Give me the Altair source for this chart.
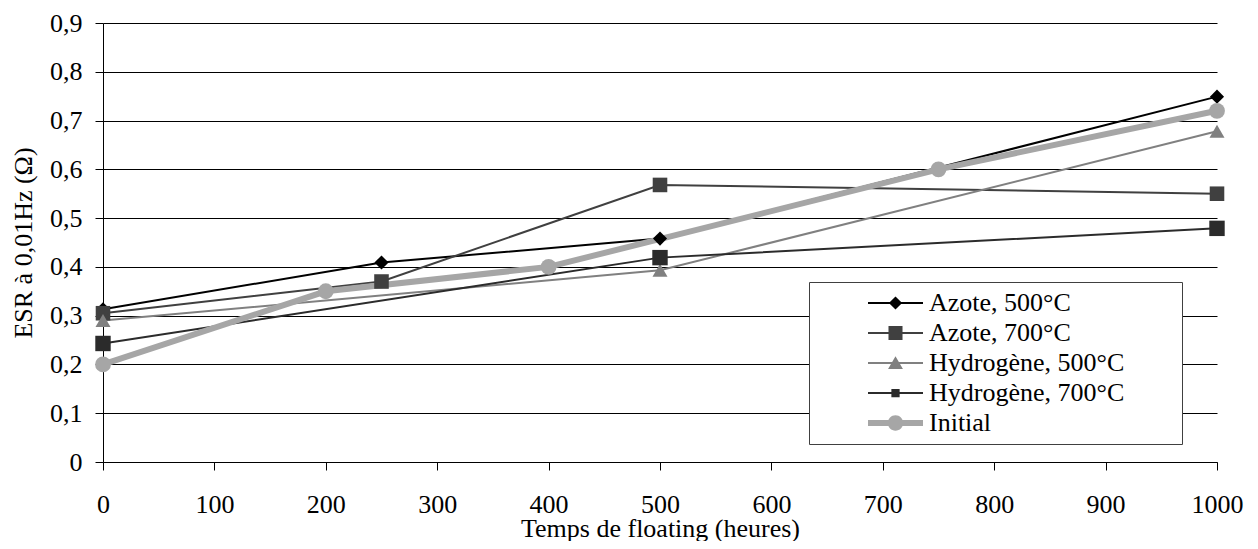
import altair as alt
import pandas as pd

series_names = ["Azote, 500°C", "Azote, 700°C", "Hydrogène, 500°C", "Hydrogène, 700°C", "Initial"]
series_colors = ["#000000", "#404040", "#808080", "#2b2b2b", "#a6a6a6"]

azote500_x = [0, 250, 500, 1000]
azote500_y = [0.313, 0.409, 0.458, 0.749]
azote700_x = [0, 250, 500, 1000]
azote700_y = [0.305, 0.370, 0.568, 0.550]
hydro500_x = [0, 500, 1000]
hydro500_y = [0.290, 0.393, 0.678]
hydro700_x = [0, 500, 1000]
hydro700_y = [0.243, 0.419, 0.479]
initial_x = [0, 200, 400, 750, 1000]
initial_y = [0.200, 0.350, 0.400, 0.600, 0.720]

y_ticks = [0, 0.1, 0.2, 0.3, 0.4, 0.5, 0.6, 0.7, 0.8, 0.9]
x_ticks = [0, 100, 200, 300, 400, 500, 600, 700, 800, 900, 1000]

FONT = "Liberation Serif"

rows = []
for name, xs, ys in [
    (series_names[0], azote500_x, azote500_y),
    (series_names[1], azote700_x, azote700_y),
    (series_names[2], hydro500_x, hydro500_y),
    (series_names[3], hydro700_x, hydro700_y),
    (series_names[4], initial_x, initial_y),
]:
    for x, y in zip(xs, ys):
        rows.append({"series": name, "t": x, "esr": y})
df = pd.DataFrame(rows)

point_shapes = ["diamond", "square", "triangle-up", "square", "circle"]
point_sizes = [200, 250, 240, 80, 290]

# legend symbols: line segment + marker, drawn as filled paths (unit = half of symbol box)
def seg(h):
    return f"M-1,-{h}L1,-{h}L1,{h}L-1,{h}Z"

legend_paths = [
    seg(0.036) + "M0,-0.24L0.24,0L0,0.24L-0.24,0Z",
    seg(0.036) + "M-0.255,-0.255L0.255,-0.255L0.255,0.255L-0.255,0.255Z",
    seg(0.036) + "M0,-0.25L0.27,0.22L-0.27,0.22Z",
    seg(0.036) + "M-0.15,-0.15L0.15,-0.15L0.15,0.15L-0.15,0.15Z",
    seg(0.109) + "M0.28,0A0.28,0.28 0 1,1 -0.28,0A0.28,0.28 0 1,1 0.28,0Z",
]

x_enc = alt.X("t:Q", scale=alt.Scale(domain=[0, 1000], nice=False),
              axis=alt.Axis(values=x_ticks, format="d", title="Temps de floating (heures)", grid=False,
                            labelFlush=False, tickSize=8, labelPadding=21,
                            titleY=74, titleBaseline="alphabetic"))
y_enc = alt.Y("esr:Q", scale=alt.Scale(domain=[0, 0.9], nice=False),
              axis=alt.Axis(values=y_ticks, title="ESR à 0,01Hz (Ω)", grid=True,
                            labelExpr="datum.value == 0 ? '0' : replace(format(datum.value, '.1f'), '.', ',')",
                            tickSize=8, labelPadding=13, titleX=-80, titleBaseline="middle"))

color_scale = alt.Scale(domain=series_names, range=series_colors)

lines_main = alt.Chart(df).transform_filter(alt.datum.series != "Initial").mark_line(strokeWidth=2).encode(
    x=x_enc, y=y_enc,
    color=alt.Color("series:N", scale=color_scale, legend=None),
    order=alt.Order("t:Q"),
)

line_init = alt.Chart(df).transform_filter(alt.datum.series == "Initial").mark_line(strokeWidth=6).encode(
    x="t:Q", y="esr:Q",
    color=alt.Color("series:N", scale=color_scale, legend=None),
    order=alt.Order("t:Q"),
)

points = alt.Chart(df).mark_point(filled=True, opacity=1).encode(
    x="t:Q", y="esr:Q",
    color=alt.Color("series:N", scale=color_scale, legend=None),
    shape=alt.Shape("series:N", scale=alt.Scale(domain=series_names, range=point_shapes), legend=None),
    size=alt.Size("series:N", scale=alt.Scale(domain=series_names, range=point_sizes), legend=None),
)

# trailing blank space so the legend frame extends to the right as in the reference
blank = "\u2800\u00a0\u00a0\u2800"
leg = alt.Legend(
    title=None, orient="none", legendX=706, legendY=259,
    labelFont=FONT, labelFontSize=26, labelColor="#000000",
    labelExpr=f"datum.label + '{blank}'",
    symbolSize=3025, symbolStrokeWidth=0, symbolOpacity=1,
    symbolOffset=53, labelOffset=6, clipHeight=30, rowPadding=0,
    padding=6, fillColor="#ffffff", strokeColor="#404040", cornerRadius=0,
    labelLimit=0,
)

legend_layer = alt.Chart(df).transform_filter("false").mark_point(filled=True, opacity=1).encode(
    x="t:Q", y="esr:Q",
    color=alt.Color("series:N", scale=alt.Scale(domain=series_names, range=series_colors), legend=leg),
    shape=alt.Shape("series:N", scale=alt.Scale(domain=series_names, range=legend_paths), legend=leg),
)

chart = alt.layer(lines_main, line_init, points, legend_layer).resolve_scale(
    shape="independent", color="independent"
).properties(
    width=1114, height=439,
    autosize=alt.AutoSizeParams(type="none"),
    padding={"left": 95, "top": 15, "right": 33, "bottom": 79},
).configure_view(stroke=None).configure_axis(
    labelFont=FONT, titleFont=FONT, labelFontSize=26, titleFontSize=26,
    labelColor="#000000", titleColor="#000000", titleFontWeight="normal",
    domainColor="#000000", tickColor="#000000", gridColor="#000000",
    domainWidth=1, tickWidth=1, gridWidth=1,
)

chart.save("out.html", embed_options={"renderer": "svg", "actions": False})
